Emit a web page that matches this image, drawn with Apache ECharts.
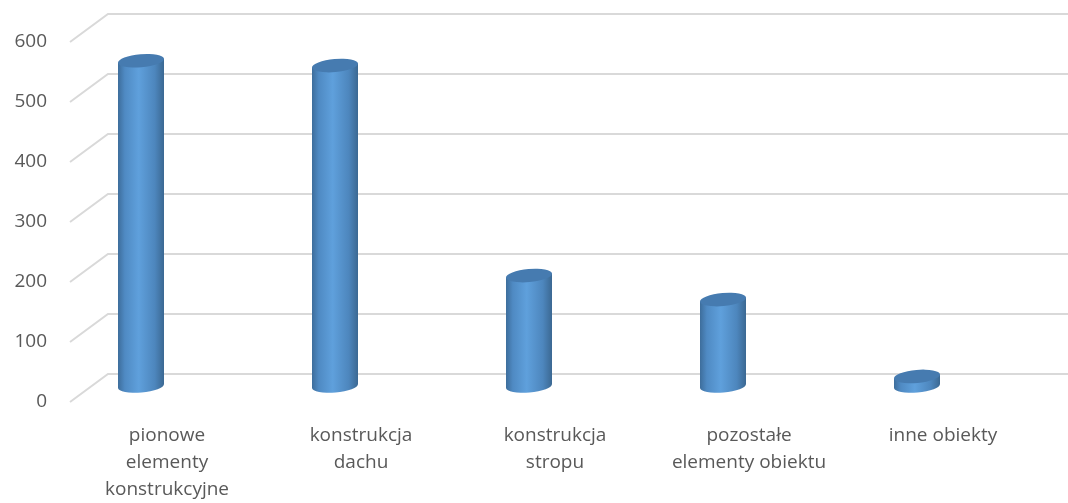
<!DOCTYPE html>
<html>
<head>
<meta charset="utf-8">
<script src="https://cdn.jsdelivr.net/npm/echarts@6/dist/echarts.min.js"></script>
<style>
  html, body { margin: 0; padding: 0; background: #fff; }
  #chart { width: 1068px; height: 503px; }
</style>
</head>
<body>
<div id="chart"></div>
<script>
// dane
const categories = ['pionowe\nelementy\nkonstrukcyjne', 'konstrukcja\ndachu', 'konstrukcja\nstropu', 'pozostałe\nelementy obiektu', 'inne obiekty']
const values = [542, 534, 184, 144, 16]
const ticks = [0, 100, 200, 300, 400, 500, 600]

const chart = echarts.init(document.getElementById('chart'))

// przesuniecie sciany tylnej (perspektywa)
const depthX = 38
const depthY = -28

function renderWall (params, api) {
  const p = api.coord([0, api.value(0)])
  const area = params.coordSys
  const x0 = area.x
  const y0 = p[1]
  return {
    type: 'polyline',
    shape: {
      points: [[x0, y0], [x0 + depthX, y0 + depthY], [area.x + area.width + depthX, y0 + depthY]]
    },
    style: { stroke: '#d9d9d9', lineWidth: 2, fill: null },
    silent: true
  }
}

function renderCylinder (params, api) {
  const idx = api.value(0)
  const top = api.coord([idx, api.value(1)])
  const base = api.coord([idx, 0])
  const cx = top[0] - 26
  const rx = 23
  const ry = 6.5
  const yt = top[1] + depthY / 2
  const yb = base[1] + depthY / 2
  const rot = -5
  const body = 'M' + (cx - rx) + ' ' + yt +
    ' L' + (cx - rx) + ' ' + yb +
    ' A' + rx + ' ' + ry + ' ' + rot + ' 0 0 ' + (cx + rx) + ' ' + (yb - 4) +
    ' L' + (cx + rx) + ' ' + (yt - 4) + ' Z'
  const cap = 'M' + (cx - rx) + ' ' + yt +
    ' A' + rx + ' ' + ry + ' ' + rot + ' 0 1 ' + (cx + rx) + ' ' + (yt - 4) +
    ' A' + rx + ' ' + ry + ' ' + rot + ' 0 1 ' + (cx - rx) + ' ' + yt + ' Z'
  return {
    type: 'group',
    children: [
      {
        type: 'path',
        shape: { pathData: body },
        style: {
          fill: new echarts.graphic.LinearGradient(0, 0, 1, 0, [
            { offset: 0, color: '#3d6d9b' },
            { offset: 0.15, color: '#4f8ac3' },
            { offset: 0.45, color: '#5fa0dc' },
            { offset: 0.8, color: '#4d86bd' },
            { offset: 1, color: '#3b6892' }
          ])
        }
      },
      {
        type: 'path',
        shape: { pathData: cap },
        style: { fill: '#467bb0' }
      }
    ]
  }
}

chart.setOption({
  animation: false,
  grid: {
    left: 70,
    right: 28,
    top: 42,
    bottom: 101
  },
  xAxis: {
    type: 'category',
    data: categories,
    axisLine: { show: false },
    axisTick: { show: false },
    axisLabel: {
      color: '#595959',
      fontSize: 19,
      fontFamily: 'Open Sans',
      lineHeight: 27,
      margin: 20,
      interval: 0
    }
  },
  yAxis: {
    type: 'value',
    min: 0,
    max: 600,
    interval: 100,
    splitLine: { show: false },
    axisLine: { show: false },
    axisTick: { show: false },
    axisLabel: {
      color: '#595959',
      fontSize: 19,
      fontFamily: 'Open Sans',
      margin: 23
    }
  },
  series: [
    {
      type: 'custom',
      name: 'siatka',
      renderItem: renderWall,
      data: ticks.map(v => [v]),
      encode: { y: 0 },
      z: 1,
      silent: true
    },
    {
      type: 'custom',
      name: 'wartosc',
      renderItem: renderCylinder,
      data: values.map((v, i) => [i, v]),
      encode: { x: 0, y: 1 },
      z: 2
    }
  ]
})
</script>
</body>
</html>
